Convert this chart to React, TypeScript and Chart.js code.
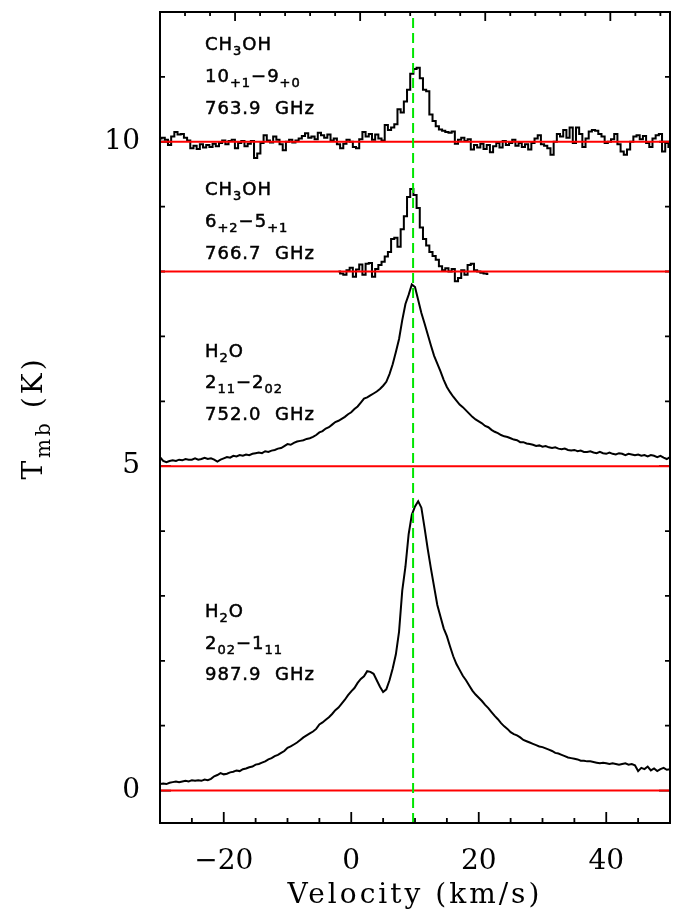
import React, { useEffect, useRef } from 'react';
import { Chart, registerables } from 'chart.js';

Chart.register(...registerables);

// ---- data (K, channel width 0.5 km/s) ----
const CHANNEL_WIDTH = 0.5;

const CH3OH_764_START = -30;
const CH3OH_764 = [
  0.05, 0.06, 0.03, -0.05, 0.08, 0.15, 0.11, 0.12, 0.06, 0.02,
  -0.10, -0.06, -0.11, -0.04, -0.09, -0.05, -0.08, -0.03, -0.07, -0.02,
  0.02, -0.04, 0.01, 0.03, -0.10, -0.02, 0.01, -0.07, -0.03, 0.01,
  -0.25, -0.18, -0.02, 0.10, 0.02, -0.01, 0.08, 0.03, -0.04, -0.13,
  0.00, 0.03, -0.01, 0.02, 0.05, 0.09, 0.13, 0.06, 0.08, 0.04,
  0.14, 0.10, 0.06, 0.11, 0.02, 0.05, -0.04, -0.10, -0.03, 0.03,
  0.00, -0.08, -0.10, 0.04, 0.15, 0.08, 0.12, 0.03, 0.11, 0.05,
  0.02, 0.26, 0.18, 0.22, 0.27, 0.50, 0.45, 0.62, 0.80, 1.05,
  1.12, 1.14, 0.98, 0.80, 0.78, 0.42, 0.32, 0.24, 0.19, 0.17,
  0.15, 0.14, 0.16, -0.03, 0.03, 0.06, 0.01, 0.04, -0.12, -0.05,
  -0.09, -0.03, -0.11, -0.05, -0.16, -0.07, -0.02, -0.09, 0.01, -0.05,
  -0.02, 0.03, -0.06, -0.02, -0.08, -0.04, -0.12, -0.02, 0.05, 0.10,
  -0.04, -0.06, -0.10, -0.20, 0.00, 0.12, 0.08, 0.18, 0.06, 0.22,
  -0.02, 0.22, 0.12, -0.08, 0.05, 0.16, 0.18, 0.17, 0.12, 0.08,
  -0.02, 0.00, 0.04, 0.12, -0.04, -0.15, -0.20, -0.12, 0.00, 0.08,
  0.10, 0.04, 0.09, -0.02, -0.08, 0.05, 0.10, 0.12, -0.15, -0.02,
  -0.08,
];

const CH3OH_767_START = -2;
const CH3OH_767 = [
  0.00, -0.03, -0.05, 0.02,
  0.06, -0.08, 0.03, 0.11, -0.05, 0.12, 0.13, -0.08, 0.04, 0.10,
  0.15, 0.23, 0.30, 0.50, 0.52, 0.38, 0.65, 0.85, 1.15, 1.27,
  1.18, 0.98, 0.68, 0.50, 0.40, 0.30, 0.24, 0.18, 0.08, 0.02,
  0.05, 0.00, 0.04, -0.15, -0.10, 0.02, -0.05, 0.10, 0.12, 0.02,
  0.00, -0.02, -0.03, -0.04,
];

const H2O_752_START = -30;
const H2O_752 = [
  0.14, 0.08, 0.06, 0.08, 0.09, 0.08, 0.10, 0.09, 0.11, 0.10,
  0.10, 0.12, 0.10, 0.11, 0.13, 0.11, 0.12, 0.10, 0.07, 0.10,
  0.12, 0.14, 0.13, 0.16, 0.15, 0.17, 0.16, 0.18, 0.17, 0.19,
  0.20, 0.21, 0.20, 0.23, 0.22, 0.24, 0.25, 0.27, 0.28, 0.31,
  0.34, 0.33, 0.36, 0.38, 0.39, 0.40, 0.42, 0.43, 0.45, 0.48,
  0.52, 0.54, 0.58, 0.60, 0.64, 0.68, 0.70, 0.73, 0.76, 0.80,
  0.83, 0.88, 0.92, 0.98, 1.04, 1.06, 1.09, 1.12, 1.15, 1.19,
  1.24, 1.30, 1.42, 1.57, 1.76, 1.96, 2.25, 2.50, 2.64, 2.80,
  2.76, 2.56, 2.36, 2.20, 2.03, 1.86, 1.70, 1.58, 1.46, 1.33,
  1.22, 1.14, 1.07, 1.01, 0.95, 0.91, 0.86, 0.81, 0.76, 0.72,
  0.69, 0.66, 0.62, 0.60, 0.56, 0.53, 0.51, 0.48, 0.46, 0.45,
  0.43, 0.41, 0.40, 0.37, 0.37, 0.35, 0.34, 0.33, 0.31, 0.32,
  0.30, 0.31, 0.29, 0.28, 0.29, 0.27, 0.26, 0.27, 0.25, 0.24,
  0.25, 0.23, 0.24, 0.22, 0.22, 0.23, 0.21, 0.20, 0.22, 0.20,
  0.19, 0.21, 0.19, 0.18, 0.20, 0.19, 0.17, 0.19, 0.18, 0.17,
  0.18, 0.16, 0.17, 0.15, 0.17, 0.16, 0.14, 0.16, 0.13, 0.11,
  0.14,
];

const H2O_988_START = -30;
const H2O_988 = [
  0.10, 0.11, 0.10, 0.12, 0.13, 0.14, 0.13, 0.14, 0.15, 0.14,
  0.16, 0.15, 0.16, 0.15, 0.17, 0.16, 0.18, 0.22, 0.24, 0.27,
  0.25, 0.26, 0.28, 0.29, 0.31, 0.30, 0.33, 0.34, 0.36, 0.37,
  0.40, 0.41, 0.43, 0.45, 0.48, 0.50, 0.53, 0.55, 0.58, 0.61,
  0.66, 0.68, 0.71, 0.74, 0.78, 0.82, 0.85, 0.88, 0.91, 0.95,
  1.02, 1.05, 1.09, 1.13, 1.18, 1.24, 1.28, 1.34, 1.40, 1.47,
  1.53, 1.58, 1.66, 1.72, 1.76, 1.84, 1.83, 1.80, 1.70, 1.60,
  1.52, 1.56, 1.70, 1.88, 2.10, 2.45, 3.08, 3.45, 3.95, 4.25,
  4.38, 4.46, 4.36, 4.05, 3.72, 3.42, 3.14, 2.86, 2.68, 2.50,
  2.38, 2.22, 2.07, 1.95, 1.86, 1.77, 1.70, 1.62, 1.54, 1.48,
  1.43, 1.38, 1.32, 1.27, 1.21, 1.15, 1.10, 1.04, 0.99, 0.95,
  0.90, 0.87, 0.85, 0.82, 0.78, 0.76, 0.74, 0.72, 0.70, 0.68,
  0.67, 0.65, 0.63, 0.61, 0.58, 0.57, 0.55, 0.53, 0.51, 0.50,
  0.49, 0.48, 0.46, 0.46, 0.45, 0.45, 0.44, 0.43, 0.42, 0.43,
  0.42, 0.41, 0.42, 0.41, 0.40, 0.41, 0.42, 0.40, 0.41, 0.39,
  0.30, 0.35, 0.33, 0.37, 0.31, 0.34, 0.30, 0.33, 0.35, 0.32,
  0.33,
];

// vertical offsets of each spectrum (K) = red baselines
const OFFSETS = [10, 8, 5, 0];
const SPECTRA = [
  { start: CH3OH_764_START, values: CH3OH_764, stepped: 'middle' },
  { start: CH3OH_767_START, values: CH3OH_767, stepped: 'middle' },
  { start: H2O_752_START, values: H2O_752, stepped: false },
  { start: H2O_988_START, values: H2O_988, stepped: false },
];

const V_SYS = 9.7; // km/s, dashed green line
const X_MIN = -30, X_MAX = 50;
const Y_MIN = -0.5, Y_MAX = 12;
const X_TICKS = [-20, 0, 20, 40];
const Y_TICKS = [0, 5, 10];
// top axis: frequency offset (MHz) for the 763.9 GHz line, spanning the velocity range
const TOP_MIN = 20, TOP_MAX = 223.85;

type Part = [string, number];
const LABEL_LINES: Part[][][] = [
  [[['CH', 0], ['3', 1], ['OH', 0]], [['10', 0], ['+1', 1], ['\u22129', 0], ['+0', 1]], [['763.9  GHz', 0]]],
  [[['CH', 0], ['3', 1], ['OH', 0]], [['6', 0], ['+2', 1], ['\u22125', 0], ['+1', 1]], [['766.7  GHz', 0]]],
  [[['H', 0], ['2', 1], ['O', 0]], [['2', 0], ['11', 1], ['\u22122', 0], ['02', 1]], [['752.0  GHz', 0]]],
  [[['H', 0], ['2', 1], ['O', 0]], [['2', 0], ['02', 1], ['\u22121', 0], ['11', 1]], [['987.9  GHz', 0]]],
];
const LABEL_BASELINES = [[50, 82, 114], [195, 227, 259], [357, 388, 420], [617, 649, 680]];

const fmt = (v: number) => (v < 0 ? '\u2212' + Math.abs(v) : String(v));

function drawRich(ctx: CanvasRenderingContext2D, x: number, y: number, parts: Part[], size: number, family: string, spacing: number, stroke = 0) {
  let cx = x;
  for (const [t, sub] of parts) {
    const fs = sub ? Math.round(size * 0.72) : size;
    ctx.font = `${fs}px ${family}`;
    (ctx as any).letterSpacing = spacing + 'px';
    const yy = y + (sub ? size * 0.28 : 0);
    ctx.fillText(t, cx, yy);
    if (stroke > 0) {
      ctx.lineWidth = stroke;
      ctx.strokeStyle = '#000';
      ctx.strokeText(t, cx, yy);
    }
    cx += ctx.measureText(t).width;
  }
  return cx - x;
}
function measureRich(ctx: CanvasRenderingContext2D, parts: Part[], size: number, family: string, spacing: number) {
  let w = 0;
  for (const [t, sub] of parts) {
    const fs = sub ? Math.round(size * 0.72) : size;
    ctx.font = `${fs}px ${family}`;
    (ctx as any).letterSpacing = spacing + 'px';
    w += ctx.measureText(t).width;
  }
  return w;
}

const framePlugin = {
  id: 'frame',
  beforeDatasetsDraw(chart: any) {
    const { ctx, chartArea: a, scales } = chart;
    const xs = scales.x, ys = scales.y;
    const fToV = (f: number) => X_MIN + ((f - TOP_MIN) * (X_MAX - X_MIN)) / (TOP_MAX - TOP_MIN);
    ctx.save();
    ctx.strokeStyle = '#000';
    ctx.lineWidth = 1.8;
    ctx.beginPath();
    for (let v = X_MIN + 5; v < X_MAX; v += 5) {
      const p = xs.getPixelForValue(v);
      const len = v % 20 === 0 ? 11 : 5;
      ctx.moveTo(p, a.bottom);
      ctx.lineTo(p, a.bottom - len);
    }
    for (let f = 30; f < TOP_MAX; f += 10) {
      const p = xs.getPixelForValue(fToV(f));
      const len = f % 50 === 0 ? 9 : 4;
      ctx.moveTo(p, a.top);
      ctx.lineTo(p, a.top + len);
    }
    for (let k = 0; k < Y_MAX; k += 1) {
      const p = ys.getPixelForValue(k);
      const len = k % 5 === 0 ? 11 : 5;
      ctx.moveTo(a.left, p);
      ctx.lineTo(a.left + len, p);
      ctx.moveTo(a.right, p);
      ctx.lineTo(a.right - len, p);
    }
    ctx.stroke();
    ctx.restore();
  },
  afterDraw(chart: any) {
    const { ctx, chartArea: a } = chart;
    ctx.save();
    ctx.strokeStyle = '#000';
    ctx.lineWidth = 2;
    ctx.strokeRect(a.left, a.top, a.right - a.left, a.bottom - a.top);

    // line identifications
    ctx.fillStyle = '#000';
    ctx.textBaseline = 'alphabetic';
    ctx.textAlign = 'left';
    LABEL_LINES.forEach((block, i) => {
      block.forEach((line, j) => {
        drawRich(ctx, 205, LABEL_BASELINES[i][j], line, 18, '"DejaVu Sans"', 1, 0.5);
      });
    });

    // x title
    const serif = '"DejaVu Serif"';
    const xParts: Part[] = [['Velocity (km/s)', 0]];
    const wx = measureRich(ctx, xParts, 28, serif, 3);
    drawRich(ctx, 415 - wx / 2, 903, xParts, 28, serif, 3);

    // y title
    const yParts: Part[] = [['T', 0], ['mb', 1], [' (K)', 0]];
    const wy = measureRich(ctx, yParts, 28, serif, 3);
    ctx.translate(42, 418);
    ctx.rotate(-Math.PI / 2);
    drawRich(ctx, -wy / 2, 0, yParts, 28, serif, 3);
    ctx.restore();
  },
};

export default function App() {
  const ref = useRef<HTMLCanvasElement>(null);
  useEffect(() => {
    const canvas = ref.current;
    if (!canvas) return;
    const datasets: any[] = [];
    SPECTRA.forEach((s, i) => {
      datasets.push({
        data: s.values.map((y, k) => ({ x: s.start + k * CHANNEL_WIDTH, y: y + OFFSETS[i] })),
        borderColor: '#000',
        borderWidth: 2,
        pointRadius: 0,
        stepped: s.stepped,
        tension: 0,
        fill: false,
        order: 2,
      });
    });
    OFFSETS.forEach((o) => {
      datasets.push({
        data: [{ x: X_MIN, y: o }, { x: X_MAX, y: o }],
        borderColor: '#ff0000',
        borderWidth: 2,
        pointRadius: 0,
        fill: false,
        order: 1,
      });
    });
    datasets.push({
      data: [{ x: V_SYS, y: Y_MIN }, { x: V_SYS, y: Y_MAX }],
      borderColor: '#00e600',
      borderWidth: 2,
      borderDash: [10, 5],
      pointRadius: 0,
      fill: false,
      order: 0,
    });

    const chart = new Chart(canvas, {
      type: 'line',
      data: { datasets },
      plugins: [framePlugin],
      options: {
        responsive: false,
        animation: false,
        layout: { padding: { left: 0, right: 9, top: 12, bottom: 0 } },
        plugins: { legend: { display: false }, tooltip: { enabled: false }, title: { display: false } },
        scales: {
          x: {
            type: 'linear',
            position: 'bottom',
            min: X_MIN,
            max: X_MAX,
            grid: { display: false, drawTicks: false },
            border: { display: false },
            ticks: {
              font: { family: 'DejaVu Serif', size: 28 },
              color: '#000',
              padding: 22,
              maxRotation: 0,
              autoSkip: false,
              callback: (v: any) => fmt(Number(v)),
            },
            afterBuildTicks: (s: any) => { s.ticks = X_TICKS.map((value) => ({ value })); },
            afterFit: (s: any) => { s.height = 87; s.paddingLeft = 0; s.paddingRight = 0; },
          },
          y: {
            type: 'linear',
            min: Y_MIN,
            max: Y_MAX,
            grid: { display: false, drawTicks: false },
            border: { display: false },
            ticks: {
              font: { family: 'DejaVu Serif', size: 28 },
              color: '#000',
              padding: 20,
              autoSkip: false,
              callback: (v: any) => fmt(Number(v)),
            },
            afterBuildTicks: (s: any) => { s.ticks = Y_TICKS.map((value) => ({ value })); },
            afterFit: (s: any) => { s.width = 160; s.paddingTop = 0; s.paddingBottom = 0; },
          },
        },
      } as any,
    });
    return () => chart.destroy();
  }, []);
  return (
    <div style={{ position: 'absolute', left: 0, top: 0, width: 679, height: 910, background: '#fff' }}>
      <canvas ref={ref} width={679} height={910} />
    </div>
  );
}
